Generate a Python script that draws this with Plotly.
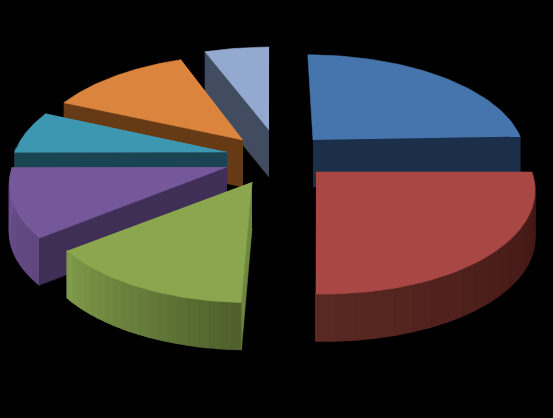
import numpy as np
import plotly.graph_objects as go

# Data
categories = ["A", "B", "C", "D", "E", "F", "G"]
values = [24.4, 26.0, 14.1, 10.3, 6.7, 12.6, 5.7]

# Styling / geometry
top_colors = ["#4675AD", "#A84744", "#8AA64F", "#75589A", "#3E97B0", "#DB843D", "#93A9CF"]
cut_colors = ["#1B2F4B", "#4F211E", "#6F863F", "#3F2E56", "#1B4452", "#653A14", "#414C60"]
rim_start = ["#2A4A70", "#3F1613", "#4F602C", "#5F477F", "#2A6F84", "#8A5220", "#5B6F90"]
rim_end = ["#1B2F4B", "#5A2823", "#7F9A4A", "#6D5190", "#1F5566", "#6F4218", "#5B6F90"]
apex_px = [(313, 140), (316, 172), (252, 182), (227, 167), (227, 152), (243, 140), (269, 130)]
radius_scale = [1.0, 0.99, 0.955, 0.99, 1.0, 1.0, 1.0]
start_tweak_deg = [0, 2.0, 0, -1.5, 0, 0, 0]
draw_order = [6, 0, 5, 4, 3, 2, 1]

CX, CY, A, B, K, H = 270.0, 155.0, 213.0, 101.0, 0.14, 47.0


def project(u, v, z=0.0):
    s = 1.0 / (1.0 + K * v)
    return CX + A * u * s, CY - B * v * s + z


def unproject(px, py):
    d = (CY - py) / B
    v = d / (1 - K * d)
    s = 1.0 / (1.0 + K * v)
    return (px - CX) / (A * s), v


def hex2rgb(c):
    return np.array([int(c[i:i + 2], 16) for i in (1, 3, 5)], float)


def mix(c1, c2, t):
    r = hex2rgb(c1) * (1 - t) + hex2rgb(c2) * t
    return "rgb(%d,%d,%d)" % tuple(r)


fig = go.Figure()


def poly(xs, ys, color, lw=1.0):
    fig.add_trace(go.Scatter(x=list(xs), y=list(ys), mode="lines", fill="toself",
                             fillcolor=color, line=dict(color=color, width=lw),
                             hoverinfo="skip", showlegend=False))


total = float(sum(values))
edges = np.cumsum([0.0] + values) / total * 2 * np.pi

for i in draw_order:
    t0, t1 = edges[i] + np.radians(start_tweak_deg[i]), edges[i + 1]
    r = radius_scale[i]
    u0, v0 = unproject(*apex_px[i])
    n = 20
    th = np.linspace(t0, t1, n * 3 + 1)
    au, av = u0 + r * np.sin(th), v0 + r * np.cos(th)

    # outer wall strips (front-facing part of the arc only)
    for j in range(n):
        idx = np.arange(j * 3, j * 3 + 4)
        if np.cos(th[idx[1]]) > 0.03:
            continue
        xa, ya = project(au[idx], av[idx])
        xb, yb = project(au[idx], av[idx], H)
        poly(np.r_[xa, xb[::-1]], np.r_[ya, yb[::-1]],
             mix(rim_start[i], rim_end[i], j / (n - 1)), 1.5)

    # cut faces that look towards the viewer
    for t, visible in ((t0, np.sin(t0) < -0.001), (t1, np.sin(t1) > 0.001)):
        if not visible:
            continue
        eu, ev = u0 + r * np.sin(t), v0 + r * np.cos(t)
        p = [project(u0, v0), project(eu, ev), project(eu, ev, H), project(u0, v0, H)]
        poly([q[0] for q in p], [q[1] for q in p], cut_colors[i], 0.6)

    # top surface
    xt, yt = project(np.r_[u0, au], np.r_[v0, av])
    poly(xt, yt, top_colors[i], 0.6)

fig.update_layout(
    width=553, height=418, margin=dict(l=0, r=0, t=0, b=0),
    paper_bgcolor="#000000", plot_bgcolor="#000000", showlegend=False,
    xaxis=dict(range=[0, 553], visible=False, fixedrange=True),
    yaxis=dict(range=[418, 0], visible=False, fixedrange=True),
)
fig.write_html("out.html", config=dict(displayModeBar=False),
               post_script="document.body.style.margin='0';document.body.style.background='#000';document.body.style.overflow='hidden';")
